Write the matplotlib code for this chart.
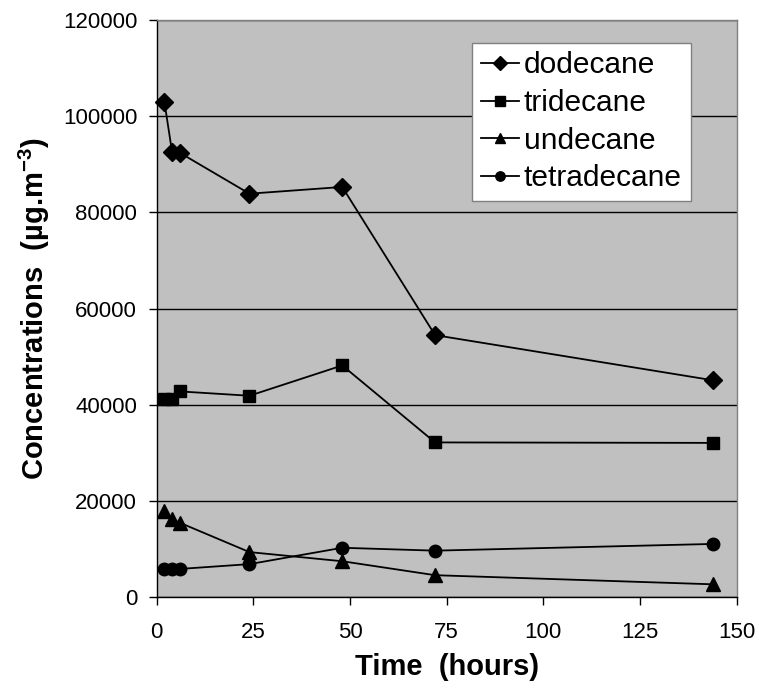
import matplotlib
matplotlib.use('Agg')
import matplotlib.pyplot as plt

plt.rcParams['font.family'] = ['Liberation Sans', 'DejaVu Sans']
plt.rcParams['mathtext.fontset'] = 'custom'
plt.rcParams['mathtext.rm'] = 'Liberation Sans'
plt.rcParams['mathtext.bf'] = 'Liberation Sans:bold'

hours = [2, 4, 6, 24, 48, 72, 144]
dodecane = [103000, 92500, 92400, 83900, 85300, 54500, 45100]
tridecane = [41200, 41200, 42800, 41900, 48200, 32200, 32100]
undecane = [17900, 16200, 15500, 9400, 7500, 4600, 2700]
tetradecane = [5900, 5900, 5900, 6900, 10300, 9700, 11100]

series = [
    ('dodecane', dodecane, 'D', 9),
    ('tridecane', tridecane, 's', 9),
    ('undecane', undecane, '^', 10),
    ('tetradecane', tetradecane, 'o', 9),
]

fig = plt.figure(figsize=(7.59, 6.88), dpi=100)
ax = fig.add_axes([0.2064, 0.1318, 0.7642, 0.8391])
ax.set_facecolor('#C0C0C0')

for name, vals, mk, ms in series:
    ax.plot(hours, vals, color='black', lw=1.3, marker=mk, markersize=ms,
            markerfacecolor='black', markeredgecolor='black', label=name,
            clip_on=False, zorder=3)

ax.set_xlim(0, 150)
ax.set_ylim(0, 120000)
ax.set_xticks([0, 25, 50, 75, 100, 125, 150])
ax.set_yticks(range(0, 120001, 20000))
ax.yaxis.grid(True, color='black', lw=1)
ax.set_axisbelow(True)

ax.tick_params(direction='out', length=6, width=1, labelsize=16)
ax.tick_params(axis='x', pad=12)
ax.tick_params(axis='y', pad=8)
for s in ['left', 'bottom']:
    ax.spines[s].set_color('black')
    ax.spines[s].set_linewidth(1)
for s in ['top', 'right']:
    ax.spines[s].set_color('#808080')
    ax.spines[s].set_linewidth(1)

ax.set_xlabel('Time  (hours)', fontsize=21, fontweight='bold', labelpad=7)
ax.set_ylabel('Concentrations  (µg.m$^{\\mathbf{-3}}$)', fontsize=21,
              fontweight='bold', labelpad=8)

leg = ax.legend(loc='upper left', bbox_to_anchor=(0.543, 0.961),
                borderaxespad=0, fontsize=21.5, frameon=True, fancybox=False,
                edgecolor='#808080', framealpha=1, handlelength=1.3,
                handletextpad=0.15, labelspacing=0.32, borderpad=0.3,
                markerscale=0.75)
leg.get_frame().set_linewidth(1)

fig.savefig('out.png', dpi=100)
